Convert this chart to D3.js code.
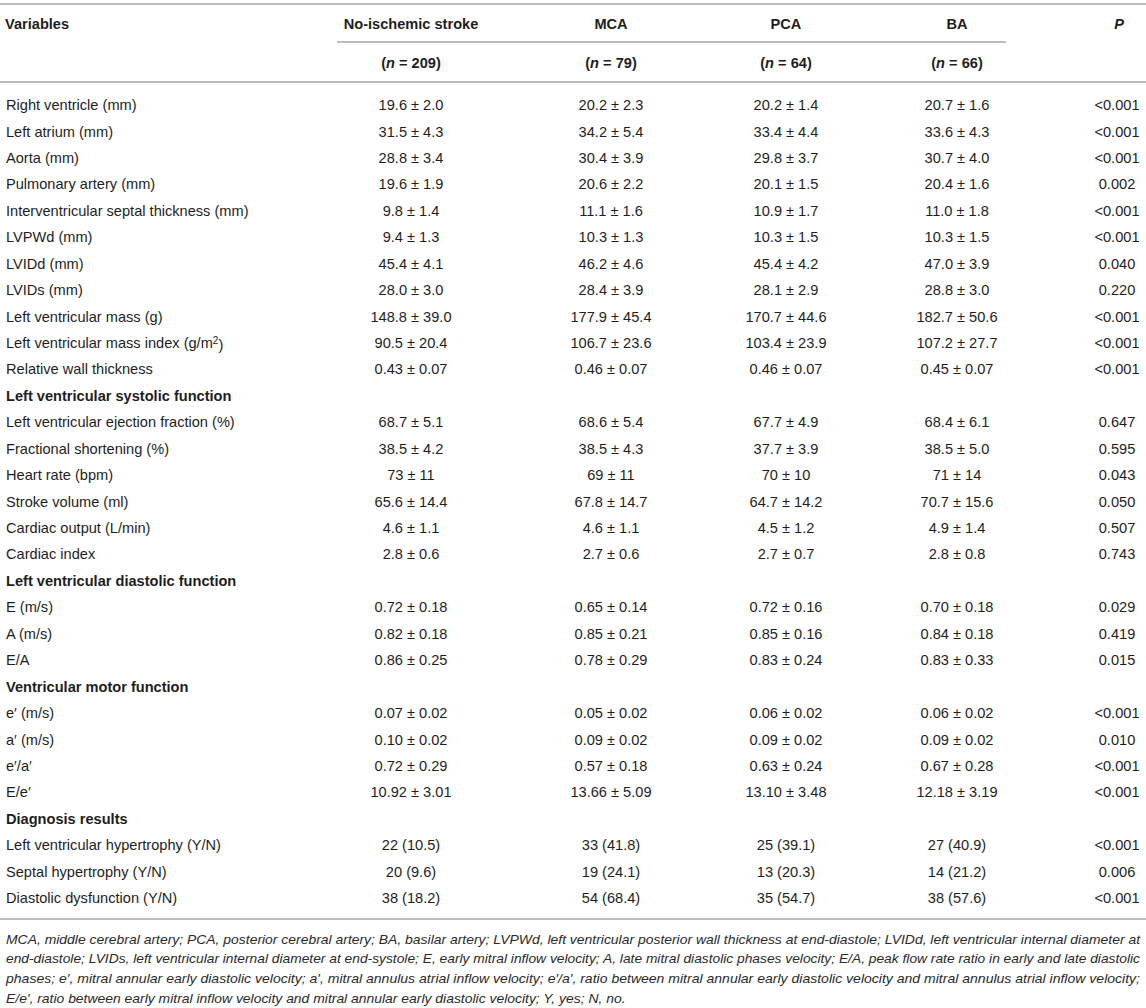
<!DOCTYPE html>
<html>
<head>
<meta charset="utf-8">
<script src="https://cdn.jsdelivr.net/npm/d3@7"></script>
<style>
  body { margin: 0; background: #fff; }
  svg { display: block; font-family: "Liberation Sans", Arial, Helvetica, sans-serif; }
  .cell { font-size: 14.6px; fill: #1e1e1e; }
  .bold { font-weight: bold; }
  .note { font-size: 13.6px; font-style: italic; fill: #2a2a2a; }
  .rule { stroke: #a8a8a8; stroke-width: 1.5; }
</style>
</head>
<body>
<svg id="table" width="1146" height="1008"></svg>
<script>
// column headers
const groups = ["No-ischemic stroke", "MCA", "PCA", "BA"];
const groupN = ["209", "79", "64", "66"];

// row labels (null value rows are section headings)
const rowLabels = [
  "Right ventricle (mm)", "Left atrium (mm)", "Aorta (mm)", "Pulmonary artery (mm)",
  "Interventricular septal thickness (mm)", "LVPWd (mm)", "LVIDd (mm)", "LVIDs (mm)",
  "Left ventricular mass (g)", "Left ventricular mass index (g/m2)", "Relative wall thickness",
  "Left ventricular systolic function",
  "Left ventricular ejection fraction (%)", "Fractional shortening (%)", "Heart rate (bpm)",
  "Stroke volume (ml)", "Cardiac output (L/min)", "Cardiac index",
  "Left ventricular diastolic function",
  "E (m/s)", "A (m/s)", "E/A",
  "Ventricular motor function",
  "e\u2032 (m/s)", "a\u2032 (m/s)", "e\u2032/a\u2032", "E/e\u2032",
  "Diagnosis results",
  "Left ventricular hypertrophy (Y/N)", "Septal hypertrophy (Y/N)", "Diastolic dysfunction (Y/N)"
];

const noIschemic = [
  "19.6 ± 2.0", "31.5 ± 4.3", "28.8 ± 3.4", "19.6 ± 1.9", "9.8 ± 1.4", "9.4 ± 1.3", "45.4 ± 4.1",
  "28.0 ± 3.0", "148.8 ± 39.0", "90.5 ± 20.4", "0.43 ± 0.07",
  null,
  "68.7 ± 5.1", "38.5 ± 4.2", "73 ± 11", "65.6 ± 14.4", "4.6 ± 1.1", "2.8 ± 0.6",
  null,
  "0.72 ± 0.18", "0.82 ± 0.18", "0.86 ± 0.25",
  null,
  "0.07 ± 0.02", "0.10 ± 0.02", "0.72 ± 0.29", "10.92 ± 3.01",
  null,
  "22 (10.5)", "20 (9.6)", "38 (18.2)"
];

const mca = [
  "20.2 ± 2.3", "34.2 ± 5.4", "30.4 ± 3.9", "20.6 ± 2.2", "11.1 ± 1.6", "10.3 ± 1.3", "46.2 ± 4.6",
  "28.4 ± 3.9", "177.9 ± 45.4", "106.7 ± 23.6", "0.46 ± 0.07",
  null,
  "68.6 ± 5.4", "38.5 ± 4.3", "69 ± 11", "67.8 ± 14.7", "4.6 ± 1.1", "2.7 ± 0.6",
  null,
  "0.65 ± 0.14", "0.85 ± 0.21", "0.78 ± 0.29",
  null,
  "0.05 ± 0.02", "0.09 ± 0.02", "0.57 ± 0.18", "13.66 ± 5.09",
  null,
  "33 (41.8)", "19 (24.1)", "54 (68.4)"
];

const pca = [
  "20.2 ± 1.4", "33.4 ± 4.4", "29.8 ± 3.7", "20.1 ± 1.5", "10.9 ± 1.7", "10.3 ± 1.5", "45.4 ± 4.2",
  "28.1 ± 2.9", "170.7 ± 44.6", "103.4 ± 23.9", "0.46 ± 0.07",
  null,
  "67.7 ± 4.9", "37.7 ± 3.9", "70 ± 10", "64.7 ± 14.2", "4.5 ± 1.2", "2.7 ± 0.7",
  null,
  "0.72 ± 0.16", "0.85 ± 0.16", "0.83 ± 0.24",
  null,
  "0.06 ± 0.02", "0.09 ± 0.02", "0.63 ± 0.24", "13.10 ± 3.48",
  null,
  "25 (39.1)", "13 (20.3)", "35 (54.7)"
];

const ba = [
  "20.7 ± 1.6", "33.6 ± 4.3", "30.7 ± 4.0", "20.4 ± 1.6", "11.0 ± 1.8", "10.3 ± 1.5", "47.0 ± 3.9",
  "28.8 ± 3.0", "182.7 ± 50.6", "107.2 ± 27.7", "0.45 ± 0.07",
  null,
  "68.4 ± 6.1", "38.5 ± 5.0", "71 ± 14", "70.7 ± 15.6", "4.9 ± 1.4", "2.8 ± 0.8",
  null,
  "0.70 ± 0.18", "0.84 ± 0.18", "0.83 ± 0.33",
  null,
  "0.06 ± 0.02", "0.09 ± 0.02", "0.67 ± 0.28", "12.18 ± 3.19",
  null,
  "27 (40.9)", "14 (21.2)", "38 (57.6)"
];

const pValues = [
  "<0.001", "<0.001", "<0.001", "0.002", "<0.001", "<0.001", "0.040", "0.220", "<0.001", "<0.001", "<0.001",
  null,
  "0.647", "0.595", "0.043", "0.050", "0.507", "0.743",
  null,
  "0.029", "0.419", "0.015",
  null,
  "<0.001", "0.010", "<0.001", "<0.001",
  null,
  "<0.001", "0.006", "<0.001"
];

const footnote = [
  "MCA, middle cerebral artery; PCA, posterior cerebral artery; BA, basilar artery; LVPWd, left ventricular posterior wall thickness at end-diastole; LVIDd, left ventricular internal diameter at",
  "end-diastole; LVIDs, left ventricular internal diameter at end-systole; E, early mitral inflow velocity; A, late mitral diastolic phases velocity; E/A, peak flow rate ratio in early and late diastolic",
  "phases; e\u2032, mitral annular early diastolic velocity; a\u2032, mitral annulus atrial inflow velocity; e\u2032/a\u2032, ratio between mitral annular early diastolic velocity and mitral annulus atrial inflow velocity;",
  "E/e\u2032, ratio between early mitral inflow velocity and mitral annular early diastolic velocity; Y, yes; N, no."
];

const columns = [noIschemic, mca, pca, ba];
const svg = d3.select("#table");
const W = 1146;

// layout scales
const colX = d3.scaleOrdinal().domain([0, 1, 2, 3, 4]).range([411, 611, 786, 957, 1117]);
const rowY = d3.scaleLinear().domain([0, rowLabels.length - 1]).range([105, 898]);
const noteY = d3.scaleLinear().domain([0, 3]).range([939, 998]);

// rules
svg.append("line").attr("class", "rule").attr("x1", 0).attr("x2", W).attr("y1", 4).attr("y2", 4);
svg.append("line").attr("class", "rule").attr("x1", 337).attr("x2", 1006).attr("y1", 42).attr("y2", 42);
svg.append("line").attr("class", "rule").attr("x1", 0).attr("x2", W).attr("y1", 82).attr("y2", 82);
svg.append("line").attr("class", "rule").attr("x1", 0).attr("x2", W).attr("y1", 919).attr("y2", 919);

// header
svg.append("text").attr("class", "cell bold").attr("x", 5).attr("y", 24).attr("dy", "0.35em").text("Variables");
svg.selectAll("text.grp").data(groups).enter().append("text")
  .attr("class", "cell bold grp")
  .attr("x", (d, i) => colX(i)).attr("y", 24).attr("dy", "0.35em")
  .attr("text-anchor", "middle").text(d => d);
svg.append("text").attr("class", "cell bold").attr("x", colX(4) + 2).attr("y", 24).attr("dy", "0.35em")
  .attr("text-anchor", "middle").style("font-style", "italic").text("P");

const nText = svg.selectAll("text.n").data(groupN).enter().append("text")
  .attr("class", "cell bold n")
  .attr("x", (d, i) => colX(i)).attr("y", 63).attr("dy", "0.35em")
  .attr("text-anchor", "middle");
nText.append("tspan").text("(");
nText.append("tspan").style("font-style", "italic").text("n");
nText.append("tspan").text(d => " = " + d + ")");

// body rows
const rows = svg.selectAll("g.row").data(rowLabels).enter().append("g")
  .attr("class", "row")
  .attr("transform", (d, i) => `translate(0,${rowY(i)})`);

rows.each(function(label, i) {
  const g = d3.select(this);
  const isSection = noIschemic[i] === null;
  const t = g.append("text").attr("class", isSection ? "cell bold" : "cell")
    .attr("x", 6).attr("dy", "0.35em");
  if (label.endsWith("(g/m2)")) {
    t.append("tspan").text(label.slice(0, -2));
    t.append("tspan").attr("dy", "-0.45em").style("font-size", "10px").text("2");
    t.append("tspan").attr("dy", "0.45em").text(")");
  } else {
    t.text(label);
  }
  if (isSection) return;
  columns.forEach((col, c) => {
    g.append("text").attr("class", "cell").attr("x", colX(c)).attr("dy", "0.35em")
      .attr("text-anchor", "middle").text(col[i]);
  });
  g.append("text").attr("class", "cell").attr("x", colX(4)).attr("dy", "0.35em")
    .attr("text-anchor", "middle").text(pValues[i]);
});

// footnote: first three lines justified, last line squeezed by the same ratio
const notes = svg.selectAll("text.note").data(footnote).enter().append("text")
  .attr("class", "note")
  .attr("x", 6).attr("y", (d, i) => noteY(i)).attr("dy", "0.35em")
  .text(d => d);
const natural = notes.nodes().map(n => n.getComputedTextLength());
const squeeze = d3.mean(natural.slice(0, 3), w => 1134 / w);
notes.attr("textLength", (d, i) => i < 3 ? 1134 : natural[i] * squeeze)
  .attr("lengthAdjust", "spacingAndGlyphs");
</script>
</body>
</html>
